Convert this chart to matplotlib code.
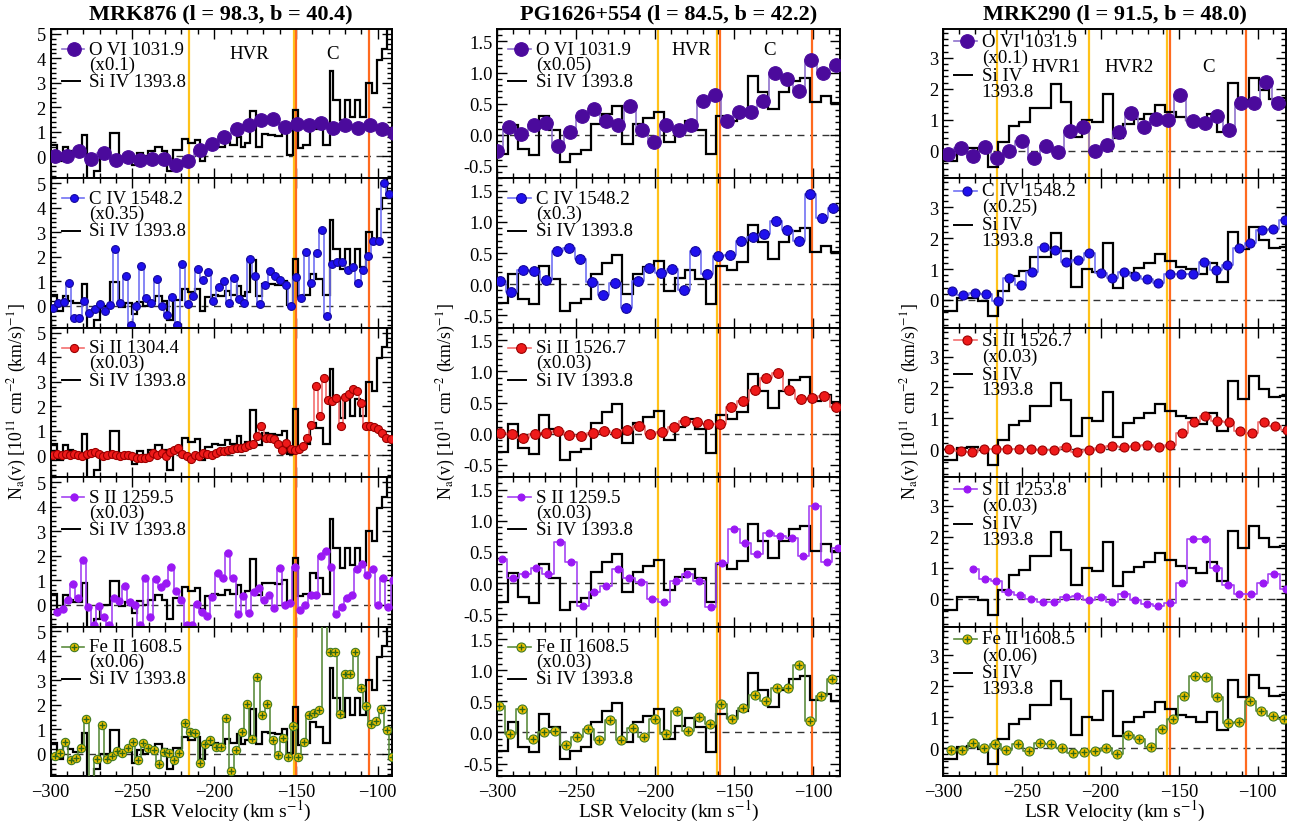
import numpy as np
import matplotlib
matplotlib.use("Agg")
import matplotlib.pyplot as plt
from matplotlib.ticker import MultipleLocator, FormatStrFormatter
import matplotlib.transforms as mtransforms

plt.rcParams['font.family'] = ['Liberation Serif', 'DejaVu Serif']
plt.rcParams['mathtext.fontset'] = 'stix'

# ---------------- MRK876 ----------------
mrk876_siiv_edges = [-300.0, -295.9, -292.7, -289.2, -286.1, -281.0, -277.6, -273.3, -269.8, -263.7,
                     -258.0, -254.5, -250.5, -247.4, -243.3, -240.3, -236.2, -232.1, -229.1, -225.0,
                     -219.9, -215.8, -211.7, -208.7, -205.6, -201.5, -197.5, -193.4, -190.3, -186.2,
                     -183.8, -181.1, -178.1, -174.4, -170.9, -166.9, -162.8, -158.7, -155.7, -152.0,
                     -148.9, -145.5, -141.4, -137.7, -133.2, -129.2, -127.1, -123.0, -120.0, -116.9,
                     -113.9, -110.8, -107.1, -103.7, -100.6, -97.6, -94.5, -90.4]
mrk876_siiv = [0.45, -0.2, 0.4, 0.2, 0.1, 0.87, -1.2, -0.6, 0.0, 0.97,
               -0.05, 0.1, -0.35, 0.15, 0.0, 0.2, 0.4, 0.2, -0.6, 0.25,
               0.7, 0.55, 0.68, -0.2, 0.35, 0.45, 0.4, 0.6, 0.45, 0.8,
               0.4, 0.55, 1.85, 0.4, 0.9, 0.87, 0.83, 1.0, 0.05, 1.9,
               0.35, 0.45, 1.3, 1.1, 0.45, 3.5, 2.3, 1.5, 2.3, 1.6,
               2.3, 1.6, 3.0, 2.6, 3.95, 4.4, 5.5]
mrk876_ovi = [0.03, 0.0, 0.2, -0.1, 0.14, -0.15, -0.03, -0.14, -0.1, -0.1,
              -0.35, -0.2, 0.27, 0.52, 0.8, 1.1, 1.26, 1.48, 1.53, 1.19,
              1.33, 1.26, 1.37, 1.16, 1.3, 1.16, 1.26, 1.1, 0.96]
mrk876_civ = [-0.1, 0.1, 0.14, 0.93, -0.5, -0.5, 0.2, -0.3, -0.15, 0.07,
              -0.23, 0.04, 2.3, 0.1, 1.2, -0.8, 0.0, 1.62, 0.3, 0.1,
              1.1, -0.03, -0.37, 0.34, -0.8, 1.7, 0.08, 0.4, 1.5, 1.07,
              1.37, 0.18, 0.77, 1.03, 0.1, 1.13, 0.27, 0.1, 1.9, 1.2,
              0.08, 0.83, 1.4, 1.2, 1.07, 0.83, -0.03, 1.17, 0.3, 2.2,
              0.93, 2.15, 3.1, -0.4, 1.72, 1.8, 1.78, 1.47, 1.6, 0.93,
              1.47, 2.05, 2.63, 2.63, 5.0, 4.55]
mrk876_siii = [0.0, 0.05, 0.0, 0.05, 0.0, 0.05, 0.0, -0.05, 0.05, 0.1,
               0.12, 0.05, -0.05, 0.0, 0.05, 0.0, -0.05, 0.0, 0.0, -0.05,
               -0.1, -0.1, -0.12, -0.08, 0.1, 0.0, 0.08, -0.05, 0.12, 0.2,
               0.3, 0.05, -0.05, -0.15, 0.0, -0.05, 0.1, 0.05, 0.0, 0.1,
               0.15, 0.15, 0.2, 0.25, 0.3, 0.3, 0.35,
               0.4, 0.45, 0.8, 1.18, 0.7, 0.7, 0.65, 0.45, 0.23, 0.5, 0.25, 0.23, 0.25, 0.36, 0.7, 1.24,
               2.84, 1.58, 3.16, 2.26, 2.2, 2.35, 1.2, 2.39, 2.5, 2.7, 2.6, 2.15, 1.2, 1.2, 1.15, 1.07,
               0.9, 0.7, 0.64]
mrk876_sii = [-0.3, -0.2, 0.2, 0.84, 0.25, 1.8, -0.1, -0.85, -0.07, -0.5,
              -0.85, 0.27, 0.15, 0.75, 0.1, 0.0, -0.85, 1.1, -0.5, 1.03,
              0.7, 0.86, 1.55, 0.56, 0.18, -0.85, -0.85, 0.04, -0.3, -0.48,
              0.3, 1.27, 1.07, 2.1, 1.07, -0.4, 0.34, -0.34, 0.5, 0.66,
              0.18, 0.38, -0.16, 1.48, -0.03, 0.07, 1.55, -0.23, -0.03, 0.38,
              0.38, 1.99, 2.2, 1.52, -0.4, -0.1, 0.25, 0.38, 1.44, 1.64,
              1.2, 1.44, -0.03, 1.1, -0.12, 1.0]
mrk876_feii = [-0.07, 0.03, 0.48, -0.23, -0.17, 0.23, 1.42, -1.2, -0.2, 1.17,
               -0.2, -0.07, 0.14, 0.03, 0.23, 0.5, -0.23, 0.44, 0.23, 0.17,
               -0.41, 0.07, 0.04, -0.23, 0.03, 1.27, 0.9, 0.85, -0.37, 0.41,
               0.55, 0.28, 0.3, 1.45, -0.69, 0.17, 0.9, 2.02, 0.62, 3.13,
               1.61, 2.02, 0.55, -0.04, 0.65, -0.14, 1.13, -0.14, 0.48, 1.58,
               1.69, 1.8, 5.5, 4.17, 4.17, 1.65, 3.27, 3.27, 4.17, 2.71,
               1.97, 1.24, 1.34, 1.82, 0.96, -0.14]

# ---------------- PG1626+554 ----------------
pg_siiv = [-0.3, 0.16, -0.23, -0.32, 0.3, 0.08, -0.43, -0.3, -0.24, 0.17,
           0.34, 0.47, -0.15, 0.17, 0.27, 0.37, -0.11, 0.1, 0.23, 0.08,
           -0.31, 0.3, 0.23, 0.35, 0.95, 0.68, 0.41, 0.68, 0.86, 0.91,
           0.52, 0.62, 0.51]
pg_ovi = [-0.26, 0.12, 0.01, 0.16, 0.19, -0.18, 0.04, 0.3, 0.42, 0.23,
          0.16, 0.47, 0.07, -0.12, 0.15, 0.08, 0.15, 0.55, 0.64, 0.23,
          0.36, 0.36, 0.55, 0.99, 0.9, 0.71, 1.2, 0.99, 1.12]
pg_civ = [0.05, -0.12, 0.23, 0.22, 0.07, 0.54, 0.58, 0.41, 0.03, -0.18,
          0.02, -0.38, 0.05, 0.26, 0.18, 0.24, -0.09, 0.54, 0.17, 0.45,
          0.47, 0.7, 0.76, 0.81, 1.01, 0.87, 0.7, 1.45, 1.07, 1.23]
pg_siii = [0.01, 0.0, -0.07, 0.0, 0.01, 0.04, -0.02, -0.04, 0.01, 0.04,
           0.01, 0.06, 0.13, 0.0, 0.02, 0.11, 0.2, 0.18, 0.16, 0.16,
           0.43, 0.52, 0.7, 0.89, 0.98, 0.7, 0.56, 0.57, 0.6, 0.43]
pg_sii = [0.38, 0.08, 0.15, 0.24, 0.15, 0.66, 0.34, -0.37, -0.14, -0.05,
          0.23, 0.08, 0.02, -0.26, -0.3, 0.04, 0.14, 0.04, -0.39, 0.32,
          0.86, 0.64, 0.47, 0.81, 0.75, 0.72, 0.43, 1.24, 0.34, 0.57]
pg_feii = [0.43, -0.02, 0.37, -0.11, 0.01, 0.03, -0.2, -0.07, 0.05, -0.12,
           0.2, -0.12, 0.07, -0.07, 0.21, -0.03, 0.34, 0.03, 0.24, 0.13,
           0.45, 0.21, 0.4, 0.6, 0.51, 0.72, 0.72, 1.08, 0.18, 0.59, 0.86]

# ---------------- MRK290 ----------------
m290_siiv = [-0.35, -0.35, 0.05, 0.07, -0.03, -0.52, 0.29, 0.78, 0.93, 1.39,
             1.39, 2.16, 1.58, 0.43, 1.0, 0.91, 1.84, 0.4, 0.86, 1.02,
             1.18, 1.48, 1.25, 1.07, 1.0, 0.83, 1.18, 0.59, 2.2, 1.64,
             2.36, 1.95, 1.68, 1.71]
m290_ovi = [-0.11, 0.08, -0.16, 0.11, -0.25, -0.03, 0.32, -0.25, 0.14, -0.05,
            0.62, 0.77, 0.0, 0.18, 0.61, 1.23, 0.75, 1.02, 1.0, 1.79,
            0.96, 0.89, 1.13, 0.66, 1.55, 1.55, 2.23, 1.55]
m290_civ = [0.29, 0.16, 0.22, 0.2, -0.03, 0.7, 0.47, 0.9, 1.71, 1.63,
            1.23, 1.28, 1.53, 0.86, 0.7, 0.91, 0.77, 0.69, 0.54, 0.85,
            0.85, 0.85, 1.23, 0.96, 1.13, 1.69, 1.85, 2.25, 2.28, 2.6]
m290_siii = [0.0, -0.05, -0.1, 0.02, 0.02, 0.02, 0.0, 0.0, -0.02, -0.02,
             0.09, -0.1, -0.02, 0.06, 0.11, 0.09, 0.12, 0.14, 0.09, 0.14,
             0.52, 0.87, 1.09, 0.93, 0.88, 0.6, 0.52, 0.87, 0.76, 0.63]
m290_sii = [0.97, 0.65, 0.59, 0.22, 0.11, 0.0, -0.11, -0.09, 0.05, 0.09,
            -0.03, 0.05, -0.11, 0.16, -0.03, -0.16, -0.22, -0.14, 0.51, 1.92,
            1.92, 0.99, 0.45, 0.16, 0.16, 0.51, 0.81, 0.32]
m290_feii = [-0.05, -0.05, 0.17, 0.0, 0.15, -0.05, 0.14, -0.08, 0.16, 0.12,
             0.01, -0.16, -0.13, -0.08, 0.01, -0.18, 0.44, 0.3, 0.05, 0.63,
             0.94, 1.7, 2.33, 2.3, 1.67, 0.81, 0.86, 1.51, 1.19, 1.04, 0.93]

# legend rows (axes fraction): ion name, scale, Si IV, Si IV 2nd line
leg_rows_a = [0.866, 0.766, 0.650, 0.550]
leg_rows_b = [0.918, 0.810, 0.690, 0.585]

sightlines = [
    dict(title='MRK876 (l = 98.3, b = 40.4)', xlim=(-300, -91.4), ylim=(-0.9, 5.2),
         ymaj=1, ymin=0.2, yfmt='%d',
         siiv_edges=mrk876_siiv_edges, siiv=mrk876_siiv, siiv_label=['Si IV 1393.8'],
         yellow=[-215.4, -151.0], orange=[-149.7, -105.3], legrows=leg_rows_a,
         regions=[('HVR', -178.7, 0.833), ('C', -127.3, 0.833)],
         ions=[(mrk876_ovi, (-297.3, -90.1), 'O VI 1031.9', '(x0.1)'),
               (mrk876_civ, (-298.4, -93.1), 'C IV 1548.2', '(x0.35)'),
               (mrk876_siii, (-298.4, -92.1), 'Si II 1304.4', '(x0.03)'),
               (mrk876_sii, (-295.9, -90.5), 'S II 1259.5', '(x0.03)'),
               (mrk876_feii, (-297.3, -91.4), 'Fe II 1608.5', '(x0.06)')],
         msizes=[9.8, 5.6, 5.8, 5.2, 6.0]),
    dict(title='PG1626+554 (l = 84.5, b = 42.2)', xlim=(-300, -82.9), ylim=(-0.7, 1.7),
         ymaj=0.5, ymin=0.1, yfmt='%.1f',
         siiv_edges=np.linspace(-300.0, -82.2, 34), siiv=pg_siiv, siiv_label=['Si IV 1393.8'],
         yellow=[-198.5, -161.0], orange=[-158.8, -100.5], legrows=leg_rows_a,
         regions=[('HVR', -177.0, 0.866), ('C', -127.4, 0.866)],
         ions=[(pg_ovi, (-300.0, -85.9), 'O VI 1031.9', '(x0.05)'),
               (pg_civ, (-298.3, -87.3), 'C IV 1548.2', '(x0.3)'),
               (pg_siii, (-298.3, -85.9), 'Si II 1526.7', '(x0.03)'),
               (pg_sii, (-297.3, -84.2), 'S II 1259.5', '(x0.03)'),
               (pg_feii, (-298.7, -88.0), 'Fe II 1608.5', '(x0.03)')],
         msizes=[9.8, 7.0, 7.0, 5.0, 6.5]),
    dict(title='MRK290 (l = 91.5, b = 48.0)', xlim=(-300, -82.0), ylim=(-0.9, 3.93),
         ymaj=1, ymin=0.2, yfmt='%d',
         siiv_edges=np.linspace(-304.7, -79.3, 35), siiv=m290_siiv, siiv_label=['Si IV', '1393.8'],
         yellow=[-266.1, -207.2, -157.8], orange=[-155.7, -107.2], legrows=leg_rows_b,
         regions=[('HVR1', -228.4, 0.746), ('HVR2', -181.8, 0.746), ('C', -131.5, 0.746)],
         ions=[(m290_ovi, (-296.8, -87.1), 'O VI 1031.9', '(x0.1)'),
               (m290_civ, (-294.7, -82.8), 'C IV 1548.2', '(x0.25)'),
               (m290_siii, (-296.4, -81.4), 'Si II 1526.7', '(x0.03)'),
               (m290_sii, (-280.9, -82.2), 'S II 1253.8', '(x0.03)'),
               (m290_feii, (-295.1, -83.5), 'Fe II 1608.5', '(x0.06)')],
         msizes=[9.8, 6.5, 6.5, 5.0, 6.5]),
]

# ion styles: marker face, marker edge, step line colour
ion_styles = [
    dict(mfc='#4b0a9c', mec='#4b0a9c', lc='#8f72cc'),
    dict(mfc='#1f10ee', mec='#14089a', lc='#7272f4'),
    dict(mfc='#ee1a1a', mec='#9a0000', lc='#f47070'),
    dict(mfc='#9a18f4', mec='#9a18f4', lc='#a444f2'),
    dict(mfc='#f2c200', mec='#3f7a22', lc='#5e8e40'),
]
CROSS = '#2f6a14'

W, H = 1301, 829
fig = plt.figure(figsize=(W / 100, H / 100), dpi=100)

col_left = [50.7, 497.3, 943.3]
col_width = [341.0, 343.0, 342.7]
top_px = 30.0
row_h = 149.4
FS = 13.6
TFS = 13.3


def draw_marks(ax, x, y, st, ms, cross, **kw):
    ax.plot(x, y, 'o', ms=ms, mfc=st['mfc'], mec=st['mec'], mew=0.8, **kw)
    if cross:
        ax.plot(x, y, '+', ms=ms * 0.75, color=CROSS, mew=1.0, **kw)


for c, sl in enumerate(sightlines):
    lr = sl['legrows']
    for r in range(5):
        bottom = (H - top_px - row_h * (r + 1)) / H
        ax = fig.add_axes([col_left[c] / W, bottom, col_width[c] / W, row_h / H])
        ax.set_xlim(sl['xlim'])
        ax.set_ylim(sl['ylim'])

        for v in sl['yellow']:
            ax.axvline(v, color='#ffc21a', lw=1.6, zorder=1.5)
        for v in sl['orange']:
            ax.axvline(v, color='#ff6a1f', lw=1.6, zorder=1.6)
        ax.axhline(0, color='#333333', lw=1.0, ls=(0, (5, 4)), zorder=1)

        ax.stairs(sl['siiv'], sl['siiv_edges'], color='k', lw=1.6, baseline=None, zorder=2)

        vals, (v0, v1), name, scale = sl['ions'][r]
        st = ion_styles[r]
        ms = sl['msizes'][r]
        vel = np.linspace(v0, v1, len(vals))
        ax.plot(vel, vals, drawstyle='steps-mid', color=st['lc'], lw=1.2, zorder=3)
        draw_marks(ax, vel, vals, st, ms, r == 4, zorder=4)

        # legend drawn by hand
        tr = ax.transAxes
        ax.plot([0.032, 0.097], [lr[0], lr[0]], color=st['lc'], lw=1.2, transform=tr, zorder=6)
        draw_marks(ax, [0.068], [lr[0]], st, ms, r == 4, transform=tr, zorder=7)
        ax.text(0.112, lr[0], name, transform=tr, va='center', ha='left', fontsize=FS)
        ax.text(0.112, lr[1], scale, transform=tr, va='center', ha='left', fontsize=FS)
        ax.plot([0.032, 0.085], [lr[2], lr[2]], color='k', lw=1.4, transform=tr)
        for k, lab in enumerate(sl['siiv_label']):
            ax.text(0.112, lr[2 + k], lab, transform=tr, va='center', ha='left', fontsize=FS)

        if r == 0:
            btr = mtransforms.blended_transform_factory(ax.transData, ax.transAxes)
            for lab, xv, yv in sl['regions']:
                ax.text(xv, yv, lab, transform=btr, ha='center', va='center', fontsize=FS)

        ax.xaxis.set_major_locator(MultipleLocator(50))
        ax.xaxis.set_minor_locator(MultipleLocator(10))
        ax.yaxis.set_major_locator(MultipleLocator(sl['ymaj']))
        ax.yaxis.set_minor_locator(MultipleLocator(sl['ymin']))
        ax.yaxis.set_major_formatter(FormatStrFormatter(sl['yfmt']))
        ax.tick_params(which='both', direction='in', top=True, right=True, width=1.0,
                       labelsize=TFS, colors='k')
        ax.tick_params(which='major', length=7)
        ax.tick_params(which='minor', length=3.5)
        for sp in ax.spines.values():
            sp.set_linewidth(1.4)
        if r < 4:
            ax.tick_params(labelbottom=False)
        else:
            ax.tick_params(axis='x', pad=5)

    cx = (col_left[c] + col_width[c] / 2) / W
    fig.text(cx, 1 - 14 / H, sl['title'], ha='center', va='center', fontsize=16, fontweight='bold')
    fig.text(cx, 1 - 811 / H, r'LSR Velocity (km s$^{-1}$)', ha='center', va='center', fontsize=14)

ylab = r'N$_{\rm a}$(v) [10$^{11}$ cm$^{-2}$ (km/s)$^{-1}$]'
for xpx in [17, 446, 910]:
    fig.text(xpx / W, 1 - 402 / H, ylab, rotation=90, ha='center', va='center', fontsize=12.8)

fig.savefig('out.png', dpi=100)
